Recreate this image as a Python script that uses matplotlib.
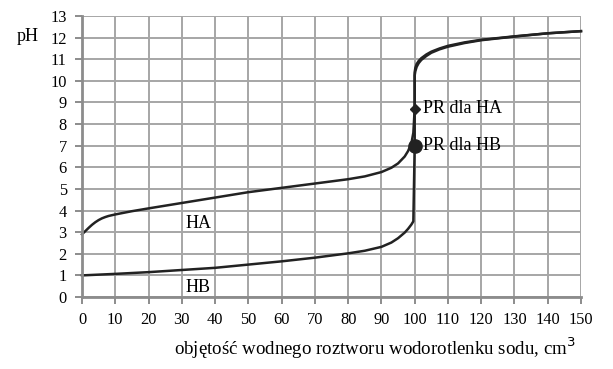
import numpy as np
import matplotlib.pyplot as plt

# === Daten ===
v_ha = [0, 1, 2, 3, 4, 5, 6, 7, 8, 10, 15, 20, 30, 40, 50, 60, 70, 80, 85, 90, 93, 95, 97, 98, 99, 99.6, 100,
        100, 100.2, 100.6, 101.2, 102, 103.5, 105, 107.5, 110, 115, 120, 130, 140, 150]
ph_ha = [2.9, 3.05, 3.2, 3.34, 3.46, 3.56, 3.64, 3.7, 3.75, 3.82, 3.97, 4.1, 4.35, 4.6, 4.85, 5.05, 5.25, 5.45, 5.58, 5.78, 5.98, 6.18, 6.5, 6.75, 7.1, 7.6, 8.7,
         10.4, 10.6, 10.78, 10.92, 11.05, 11.22, 11.35, 11.5, 11.62, 11.78, 11.9, 12.06, 12.2, 12.3]
v_hb = [0, 10, 20, 30, 40, 50, 60, 70, 80, 85, 90, 93, 95, 97, 98, 99, 99.6, 100,
        100, 100.2, 100.6, 101.2, 102, 103.5, 105, 107.5, 110, 115, 120, 130, 140, 150]
ph_hb = [1.0, 1.07, 1.15, 1.25, 1.35, 1.5, 1.65, 1.82, 2.02, 2.14, 2.32, 2.52, 2.72, 2.98, 3.15, 3.35, 3.5, 7.0,
         10.25, 10.45, 10.65, 10.82, 10.97, 11.15, 11.3, 11.46, 11.58, 11.75, 11.88, 12.05, 12.2, 12.3]

pr_x = [100, 100]
pr_y = [8.7, 7.0]
pr_labels = ["PR dla HA", "PR dla HB"]

xticks = list(range(0, 151, 10))
yticks = list(range(0, 14))

plt.rcParams['font.family'] = ['Liberation Serif', 'DejaVu Serif']
plt.rcParams['font.size'] = 11.8

fig = plt.figure(figsize=(6.13, 3.69), dpi=100)
ax = fig.add_axes([0.1338, 0.1951, 0.8140, 0.7615])

grid_col = '#a6a6a6'
ax.set_xlim(0, 150)
ax.set_ylim(0, 13)
ax.set_xticks(xticks)
ax.set_yticks(yticks)
ax.grid(True, color=grid_col, linewidth=1.4)
ax.set_axisbelow(True)
for s in ['top', 'right']:
    ax.spines[s].set_visible(False)
for s in ['left', 'bottom']:
    ax.spines[s].set_color('#8c8c8c')
    ax.spines[s].set_linewidth(2)
ax.tick_params(color='#8c8c8c', width=1.4, length=5, pad=6)

ax.plot(v_ha, ph_ha, color='#222222', linewidth=1.8, clip_on=False)
ax.plot(v_hb, ph_hb, color='#222222', linewidth=1.8, clip_on=False)

ax.plot(pr_x[0], pr_y[0], marker='D', color='#222222', markersize=5.5, clip_on=False)
ax.plot(pr_x[1], pr_y[1], marker='o', color='#222222', markersize=9.5, clip_on=False)
for x, y, t in zip(pr_x, pr_y, pr_labels):
    ax.text(x + 2.5, y, t, va='center', ha='left', fontsize=13)

ax.text(35, 3.4, "HA", ha='center', va='center', fontsize=13)
ax.text(35, 0.45, "HB", ha='center', va='center', fontsize=13)

fig.text(0.028, 0.89, "pH", fontsize=13)
ax.set_xlabel("objętość wodnego roztworu wodorotlenku sodu, cm$^3$", fontsize=13.6, labelpad=5, x=0.99, ha='right')

fig.savefig("out.png", dpi=100)
